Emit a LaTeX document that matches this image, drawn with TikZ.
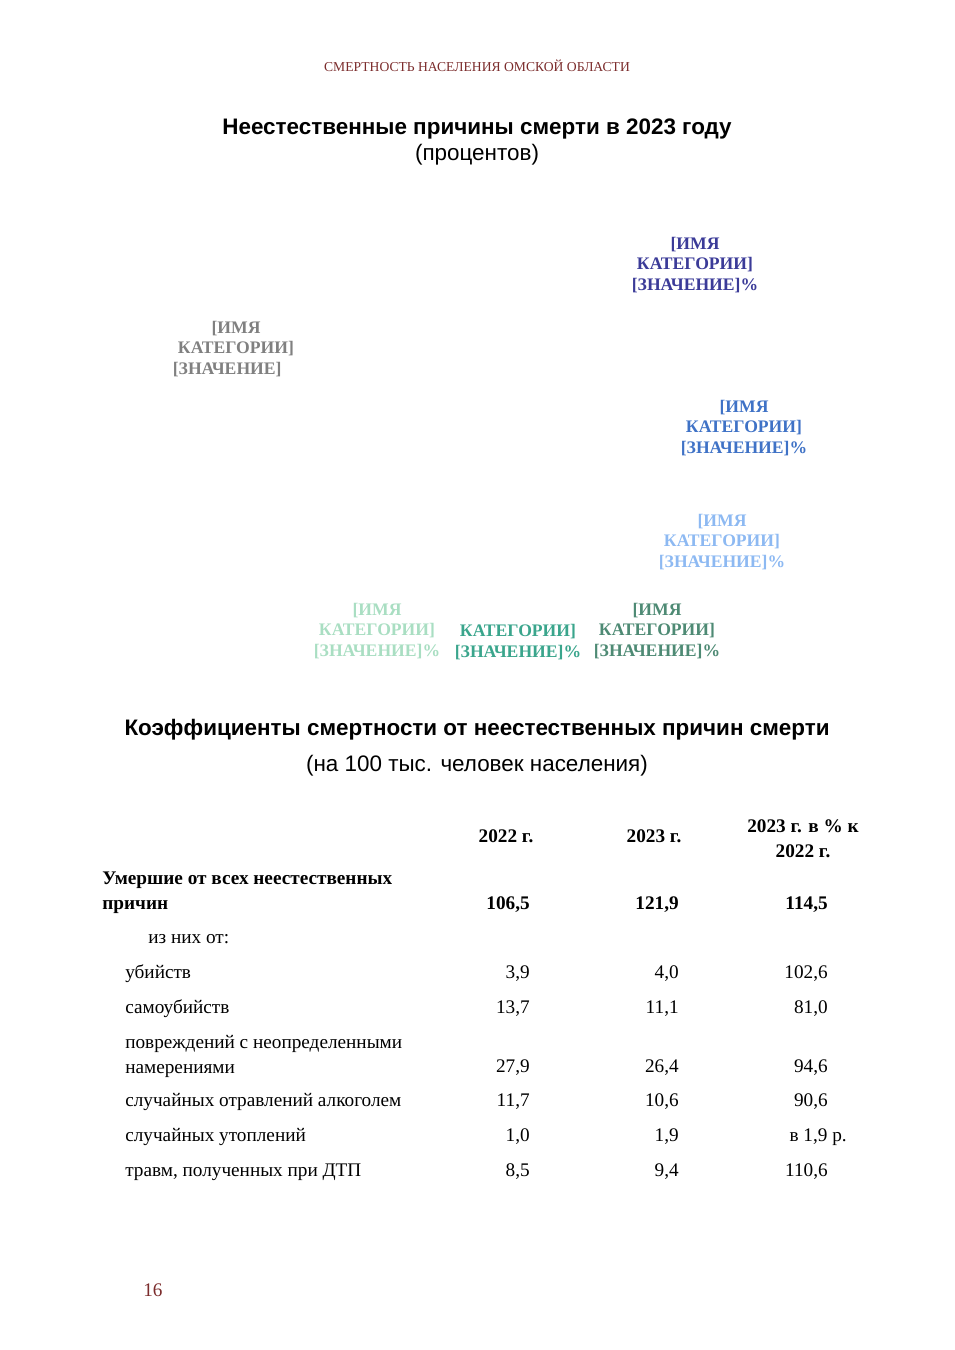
\documentclass[tikz,border=0pt]{standalone}
\usepackage{fontspec}
\setmainfont{Liberation Serif}
\newfontfamily\arialfont{Liberation Sans}
\usepackage{xcolor}
\usepackage{tikz}

\definecolor{headred}{HTML}{7B2C2C}
\definecolor{catnavy}{HTML}{3B3B98}
\definecolor{catgray}{HTML}{808080}
\definecolor{catblue}{HTML}{3F72C6}
\definecolor{catsky}{HTML}{8DB9F2}
\definecolor{catmint}{HTML}{A9DEC2}
\definecolor{catteal}{HTML}{3AA58C}
\definecolor{catpine}{HTML}{4E8A74}

\tikzset{
    catlabel/.style={align=center, inner sep=0pt, font=\fontsize{11}{12.7}\selectfont\bfseries},
    heading/.style={inner sep=0pt, anchor=mid, font=\fontsize{14}{17}\selectfont\arialfont\bfseries},
    subheading/.style={inner sep=0pt, anchor=mid, font=\fontsize{14}{17}\selectfont\arialfont},
    cell/.style={inner sep=0pt, font=\fontsize{12}{15.6}\selectfont},
    rowname/.style={cell, anchor=mid west},
    num/.style={cell, anchor=mid east}
}

\begin{document}
\begin{tikzpicture}[x=0.624pt, y=-0.624pt]
                \useasboundingbox (0,0) rectangle (954,1350);
                % page header and chart title
                \node[inner sep=0pt, anchor=mid, text=headred, font=\fontsize{8.5}{10}\selectfont] (Header) at (477,68) {СМЕРТНОСТЬ НАСЕЛЕНИЯ ОМСКОЙ ОБЛАСТИ};
                \node[heading] (ChartTitle) at (477,131) {Неестественные причины смерти в 2023 году};
                \node[subheading] (ChartUnit) at (477,157) {(процентов)};
                % data labels of the pie
                \node[catlabel, text=catnavy] (LblNavy) at (695,265) {[ИМЯ\\КАТЕГОРИИ]\\{[ЗНАЧЕНИЕ]\%}};
                \node[catlabel, text=catgray] (LblGray) at (236,349) {[ИМЯ\\КАТЕГОРИИ]\\{[ЗНАЧЕНИЕ]\phantom{\%}}};
                \node[catlabel, text=catblue] (LblBlue) at (744,428) {[ИМЯ\\КАТЕГОРИИ]\\{[ЗНАЧЕНИЕ]\%}};
                \node[catlabel, text=catsky] (LblSky) at (722,542) {[ИМЯ\\КАТЕГОРИИ]\\{[ЗНАЧЕНИЕ]\%}};
                \node[catlabel, text=catmint] (LblMint) at (377,631) {[ИМЯ\\КАТЕГОРИИ]\\{[ЗНАЧЕНИЕ]\%}};
                \node[catlabel, text=catteal] (LblTeal) at (518,642) {КАТЕГОРИИ]\\{[ЗНАЧЕНИЕ]\%}};
                \node[catlabel, text=catpine] (LblPine) at (657,631) {[ИМЯ\\КАТЕГОРИИ]\\{[ЗНАЧЕНИЕ]\%}};
                % table title
                \node[heading] (TableTitle) at (477,732) {Коэффициенты смертности от неестественных причин смерти};
                \node[subheading] (TableUnit) at (477,768) {(на 100 тыс. человек населения)};
                % table head
                \node[cell, anchor=mid, font=\fontsize{12}{15.6}\selectfont\bfseries] (Head22) at (506,839) {2022 г.};
                \node[cell, anchor=mid, font=\fontsize{12}{15.6}\selectfont\bfseries] (Head23) at (654,839) {2023 г.};
                \node[cell, align=center, font=\fontsize{12}{15.6}\selectfont\bfseries] (HeadPct) at (803,839) {2023 г. в \% к\\2022 г.};
                % total row
                \node[cell, align=left, anchor=west, font=\fontsize{12}{15.6}\selectfont\bfseries] (RowAll) at (102,893) {Умершие от всех неестественных\\причин};
                \node[num, font=\fontsize{12}{15.6}\selectfont\bfseries] (All22) at (530,906) {106,5};
                \node[num, font=\fontsize{12}{15.6}\selectfont\bfseries] (All23) at (679,906) {121,9};
                \node[num, font=\fontsize{12}{15.6}\selectfont\bfseries] (AllPct) at (828,906) {114,5};
                \node[rowname] (RowOf) at (148,940) {из них от:};
                % rows
                \node[rowname] (RowKill) at (125,975) {убийств};
                \node[num] (Kill22) at (530,975) {3,9};
                \node[num] (Kill23) at (679,975) {4,0};
                \node[num] (KillPct) at (828,975) {102,6};
                \node[rowname] (RowSuic) at (125,1010) {самоубийств};
                \node[num] (Suic22) at (530,1010) {13,7};
                \node[num] (Suic23) at (679,1010) {11,1};
                \node[num] (SuicPct) at (828,1010) {81,0};
                \node[cell, align=left, anchor=west] (RowInj) at (125,1056) {повреждений с неопределенными\\намерениями};
                \node[num] (Inj22) at (530,1069) {27,9};
                \node[num] (Inj23) at (679,1069) {26,4};
                \node[num] (InjPct) at (828,1069) {94,6};
                \node[rowname] (RowAlc) at (125,1103) {случайных отравлений алкоголем};
                \node[num] (Alc22) at (530,1103) {11,7};
                \node[num] (Alc23) at (679,1103) {10,6};
                \node[num] (AlcPct) at (828,1103) {90,6};
                \node[rowname] (RowDrown) at (125,1138) {случайных утоплений};
                \node[num] (Drown22) at (530,1138) {1,0};
                \node[num] (Drown23) at (679,1138) {1,9};
                \node[num] (DrownPct) at (847,1138) {в 1,9 р.};
                \node[rowname] (RowRoad) at (125,1173) {травм, полученных при ДТП};
                \node[num] (Road22) at (530,1173) {8,5};
                \node[num] (Road23) at (679,1173) {9,4};
                \node[num] (RoadPct) at (828,1173) {110,6};
                % page number
                \node[inner sep=0pt, anchor=mid west, text=headred, font=\fontsize{12}{14}\selectfont] (PageNo) at (143,1293) {16};
            \end{tikzpicture}
\end{document}
